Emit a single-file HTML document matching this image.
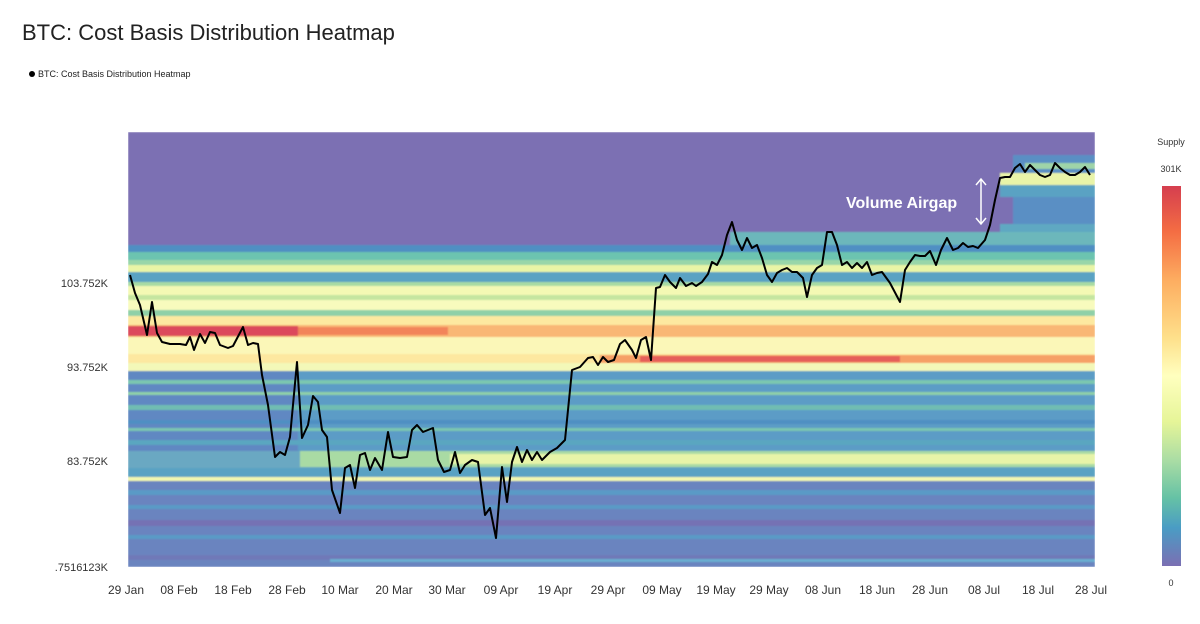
<!DOCTYPE html>
<html><head><meta charset="utf-8"><style>
body{margin:0;background:#fff;width:1200px;height:619px;overflow:hidden;font-family:"Liberation Sans",sans-serif}
</style></head><body>
<svg width="1200" height="619" xmlns="http://www.w3.org/2000/svg" font-family="Liberation Sans, sans-serif">
<defs>
<linearGradient id="cb" x1="0" y1="0" x2="0" y2="1">
<stop offset="0" stop-color="#d53e4f"/><stop offset="0.12" stop-color="#f46d43"/><stop offset="0.25" stop-color="#fdae61"/><stop offset="0.4" stop-color="#fee08b"/><stop offset="0.5" stop-color="#ffffbf"/><stop offset="0.62" stop-color="#e6f598"/><stop offset="0.72" stop-color="#abdda4"/><stop offset="0.82" stop-color="#66c2a5"/><stop offset="0.9" stop-color="#4a9cc4"/><stop offset="1" stop-color="#7b6fb3"/>
</linearGradient>
<filter id="bl" x="0" y="0" width="1" height="1"><feGaussianBlur stdDeviation="0.8"/></filter>
<clipPath id="cp"><rect x="128" y="132" width="967" height="435"/></clipPath>
</defs>
<text x="22" y="40" font-size="22" fill="#222">BTC: Cost Basis Distribution Heatmap</text>
<circle cx="32" cy="74" r="3" fill="#000"/>
<text x="38" y="77" font-size="9" fill="#222">BTC: Cost Basis Distribution Heatmap</text>
<g clip-path="url(#cp)"><g filter="url(#bl)">
<rect x="128" y="132" width="967" height="435" fill="#7b6fb3"/>
<rect x="128" y="245" width="967" height="7" fill="#4f8fc3"/>
<rect x="128" y="252" width="967" height="8" fill="#6cc4b0"/>
<rect x="128" y="260" width="967" height="5" fill="#98d6a9"/>
<rect x="128" y="265" width="967" height="7" fill="#e9f5a6"/>
<rect x="128" y="272" width="967" height="10" fill="#5aa2c3"/>
<rect x="128" y="282" width="967" height="4" fill="#a8dba4"/>
<rect x="128" y="286" width="967" height="9" fill="#f4f9b4"/>
<rect x="128" y="295" width="967" height="5" fill="#c5e6a0"/>
<rect x="128" y="300" width="967" height="10" fill="#f8fbbd"/>
<rect x="128" y="310" width="967" height="6" fill="#8fd0a8"/>
<rect x="128" y="316" width="967" height="9" fill="#fde9a0"/>
<rect x="128" y="325" width="967" height="12" fill="#f9b774"/>
<rect x="128" y="326" width="170" height="10" fill="#dc4a5c"/>
<rect x="298" y="327" width="150" height="8" fill="#f2845a"/>
<rect x="128" y="337" width="967" height="17" fill="#fbf7b8"/>
<rect x="128" y="354" width="967" height="9" fill="#fde8a0"/>
<rect x="600" y="355" width="495" height="8" fill="#f6a066"/>
<rect x="640" y="356" width="260" height="6" fill="#e55e5a"/>
<rect x="128" y="363" width="967" height="8" fill="#f3f8b8"/>
<rect x="128" y="371" width="967" height="80" fill="#5b9cc6"/>
<rect x="128" y="371" width="170" height="80" fill="#6088c2"/>
<rect x="128" y="380" width="967" height="4" fill="#7cc6b0"/>
<rect x="128" y="392" width="967" height="3" fill="#8fd0a8"/>
<rect x="128" y="405" width="967" height="5" fill="#6fbdb2"/>
<rect x="128" y="420" width="967" height="4" fill="#4f8fc3"/>
<rect x="128" y="428" width="967" height="3" fill="#7cc6b0"/>
<rect x="128" y="440" width="967" height="5" fill="#5aa6c0"/>
<rect x="128" y="451" width="967" height="17" fill="#6aa8c2"/>
<rect x="300" y="451" width="795" height="16" fill="#a9dba4"/>
<rect x="450" y="454" width="645" height="10" fill="#e7f4a8"/>
<rect x="128" y="468" width="967" height="9" fill="#5aa2c3"/>
<rect x="128" y="477" width="967" height="4" fill="#f2f7b0"/>
<rect x="128" y="481" width="967" height="86" fill="#6a84bf"/>
<rect x="128" y="490" width="967" height="5" fill="#5a9ac6"/>
<rect x="128" y="505" width="967" height="4" fill="#5a9ac6"/>
<rect x="128" y="520" width="967" height="6" fill="#7472b4"/>
<rect x="128" y="535" width="967" height="4" fill="#5a9ac6"/>
<rect x="128" y="555" width="967" height="5" fill="#6f79b8"/>
<rect x="330" y="559" width="765" height="3" fill="#6aaed0"/>
<rect x="1013" y="155" width="82" height="90" fill="#5a8fc4"/>
<rect x="1025" y="163" width="70" height="6" fill="#9fd4a8"/>
<rect x="1000" y="173" width="95" height="12" fill="#e9f4a8"/>
<rect x="1000" y="185" width="95" height="12" fill="#5aa2c3"/>
<rect x="1000" y="224" width="95" height="8" fill="#5fa8c2"/>
<rect x="730" y="232" width="365" height="13" fill="#6cb7bb"/>
</g></g>
<polyline fill="none" stroke="#000" stroke-width="2" stroke-linejoin="round" points="130,275 135,293 140,305 147,335 152,302 157,333 162,342 170,344 180,344 186,345 190,337 194,350 200,334 205,343 210,332 215,333 220,345 228,348 233,346 243,327 248,345 253,343 258,344 262,375 268,405 275,457 280,452 285,455 290,437 297,362 302,438 308,425 313,396 318,402 322,430 327,437 332,490 340,513 345,468 350,465 355,488 360,455 365,453 370,470 375,458 382,470 388,432 393,457 400,458 407,457 412,430 417,425 423,432 433,428 438,460 444,472 450,470 455,452 460,473 465,465 472,460 478,462 485,515 490,508 496,538 502,467 507,502 512,462 517,447 522,462 527,450 532,460 537,452 542,460 550,452 557,448 565,440 572,370 580,367 588,358 593,357 598,365 603,357 608,362 614,360 620,344 625,340 632,350 636,358 641,340 646,337 651,360 656,288 660,287 665,275 670,282 676,288 680,278 686,286 692,283 696,286 702,282 708,274 712,262 717,265 722,255 727,235 732,222 737,240 742,250 747,238 752,248 757,245 762,258 767,275 772,282 777,273 782,270 787,268 792,272 797,272 803,278 807,297 812,275 817,268 822,265 827,232 832,232 837,245 842,265 847,262 852,268 857,263 862,268 867,262 872,275 877,273 882,272 890,283 900,302 905,270 910,262 915,255 920,256 925,256 930,251 936,265 941,250 947,238 953,250 958,248 963,243 968,247 973,246 978,248 985,240 990,225 995,200 1000,178 1005,177 1010,177 1015,168 1020,164 1025,172 1030,165 1035,170 1040,175 1045,177 1050,175 1055,163 1060,168 1065,172 1070,175 1075,175 1080,172 1085,167 1090,175"/>
<text x="846" y="208" font-size="16" font-weight="bold" fill="#fff">Volume Airgap</text>
<g stroke="#fff" stroke-width="1.5" fill="none">
<line x1="981" y1="179" x2="981" y2="224"/>
<polyline points="976,185 981,179 986,185"/><polyline points="976,218 981,224 986,218"/>
</g>
<g font-size="11" fill="#333" text-anchor="end">
<text x="108" y="287">103.752K</text>
<text x="108" y="371">93.752K</text>
<text x="108" y="465">83.752K</text>
<text x="108" y="571">.7516123K</text>
</g>
<g font-size="12" fill="#333" text-anchor="middle">
<text x="126" y="594">29 Jan</text><text x="179" y="594">08 Feb</text><text x="233" y="594">18 Feb</text><text x="287" y="594">28 Feb</text><text x="340" y="594">10 Mar</text><text x="394" y="594">20 Mar</text><text x="447" y="594">30 Mar</text><text x="501" y="594">09 Apr</text><text x="555" y="594">19 Apr</text><text x="608" y="594">29 Apr</text><text x="662" y="594">09 May</text><text x="716" y="594">19 May</text><text x="769" y="594">29 May</text><text x="823" y="594">08 Jun</text><text x="877" y="594">18 Jun</text><text x="930" y="594">28 Jun</text><text x="984" y="594">08 Jul</text><text x="1038" y="594">18 Jul</text><text x="1091" y="594">28 Jul</text>
</g>
<text x="1171" y="145" font-size="9" fill="#333" text-anchor="middle">Supply</text>
<text x="1171" y="172" font-size="9" fill="#333" text-anchor="middle">301K</text>
<rect x="1162" y="186" width="19" height="380" fill="url(#cb)"/>
<text x="1171" y="586" font-size="9" fill="#333" text-anchor="middle">0</text>
</svg>
</body></html>
